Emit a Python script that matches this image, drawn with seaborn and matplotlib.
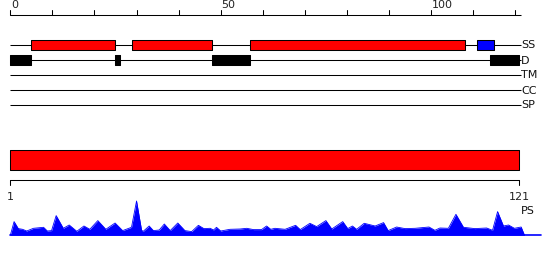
import matplotlib
matplotlib.use("Agg")
import matplotlib.pyplot as plt
import seaborn as sns
import pandas as pd

# ---------------- data ----------------
seq_len = 121
track_names = ["SS", "D", "TM", "CC", "SP"]
ss_helix = [(5, 25), (29, 48), (57, 108)]        # red boxes
ss_strand = [(111, 115)]                          # blue box
disorder = [(0, 5), (24.9, 26.1), (48, 57), (114, 121)]
scale_ticks = list(range(0, 121, 10))
scale_labels = {0: "0", 50: "50", 100: "100"}
domain = [(0, 121)]
domain_labels = ["1", "121"]

ps_pos = [0.0, 0.9, 1.9, 2.9, 3.9, 5.5, 7.9, 8.8, 9.8, 10.9, 12.6, 14.0, 15.8, 17.5,
          18.9, 20.8, 22.7, 24.9, 26.7, 28.8, 30.0, 31.2, 31.6, 33.0, 34.0, 35.4, 36.6,
          38.0, 39.8, 41.5, 43.1, 44.7, 46.0, 47.5, 48.3, 49.0, 50.0, 52.2, 54.6, 56.2,
          57.8, 59.7, 60.9, 61.9, 62.9, 65.3, 67.8, 68.9, 71.2, 72.8, 75.0, 76.4, 79.0,
          80.2, 81.3, 82.3, 84.1, 86.7, 88.7, 89.8, 91.8, 93.8, 96.2, 99.5, 100.9, 102.1,
          104.1, 105.9, 107.7, 110.4, 113.2, 114.6, 115.8, 117.2, 118.4, 119.8, 121.4, 122.2]
ps_val = [0, 13.7, 6.7, 6, 4.3, 7, 8, 4.3, 4.7, 19.7, 7, 10.3, 4, 9.3,
          6, 14.7, 6, 12.3, 4.7, 8, 34.3, 5, 4, 9.3, 4.7, 5.3, 11.3,
          4.7, 12.3, 4.7, 3.7, 10, 6.7, 7, 5.3, 8, 4.3, 6, 6.3, 7,
          5.7, 5.7, 9.3, 6, 7, 6, 10, 5.7, 12, 8.7, 14.7, 6.3, 13.7,
          6.7, 9.3, 6, 12, 9.3, 12.7, 4.7, 8.3, 6.7, 7, 8.3, 5, 7.3,
          7, 21, 8, 6.7, 7.3, 5, 23.7, 9.3, 10.3, 7, 8.3, 0]
ps_base_end = 126.05

# ---------------- layout (pixel rows) ----------------
px_per_res = 4.208
x0_px = 10.3
W, H = 550, 260
row_y = {"SS": 45, "D": 60, "TM": 75, "CC": 90, "SP": 105}
box_h = 10
scale_y = 15
dom_y0, dom_y1 = 150.3, 170.3
dom_axis_y = 180.3
ps_base = 235.3
line_end = 121.3

sns.set_theme(style="white")
plt.rcParams["font.family"] = ["DejaVu Sans"]

fig = plt.figure(figsize=(W / 100, H / 100), dpi=100)
ax = fig.add_axes([0, 0, 1, 1])
ax.set_xlim(-x0_px / px_per_res, (W - x0_px) / px_per_res)
ax.set_ylim(H, 0)
ax.axis("off")

lw = 0.75
fs = 8

# top scale
ax.plot([0, line_end], [scale_y, scale_y], color="black", lw=lw, solid_capstyle="butt")
for t in scale_ticks:
    ax.plot([t, t], [scale_y, scale_y - 5], color="black", lw=lw)
    if t in scale_labels:
        ax.text(t + 0.2, scale_y - 4.5, scale_labels[t], ha="left", va="bottom",
                fontsize=fs, color="#222222")

# track lines
for name in track_names:
    y = row_y[name]
    ax.plot([0, line_end], [y, y], color="black", lw=lw, solid_capstyle="butt")
    ax.text(line_end + 0.1, y + 0.5, name, ha="left", va="center", fontsize=fs,
            color="#111111")

def boxes(spans, y, color):
    ax.broken_barh([(a, b - a) for a, b in spans], (y - box_h / 2, box_h),
                   facecolors=color, edgecolors="black", linewidth=lw, zorder=3)

boxes(ss_helix, row_y["SS"], "#ff0000")
boxes(ss_strand, row_y["SS"], "#0000ff")
boxes(disorder, row_y["D"], "black")

# domain bar
ax.broken_barh([(a, b - a) for a, b in domain], (dom_y0, dom_y1 - dom_y0),
               facecolors="#ff0000", edgecolors="black", linewidth=lw, zorder=3)
ax.plot([0, seq_len], [dom_axis_y, dom_axis_y], color="black", lw=lw)
for xx in (0, seq_len):
    ax.plot([xx, xx], [dom_axis_y, dom_axis_y + 5], color="black", lw=lw)
ax.text(0, 196.5, domain_labels[0], ha="center", va="center", fontsize=fs, color="#222222")
ax.text(seq_len, 196.5, domain_labels[1], ha="center", va="center", fontsize=fs,
        color="#222222")
ax.text(line_end + 0.1, 211, "PS", ha="left", va="center", fontsize=fs, color="#111111")

# profile
df = pd.DataFrame({"pos": ps_pos, "y": [ps_base - v for v in ps_val]})
ax.fill_between(df["pos"], df["y"], ps_base, color="#0000ff", lw=0, zorder=2)
sns.lineplot(data=df, x="pos", y="y", ax=ax, color="#0000ff", lw=0.6, sort=False,
             estimator=None, zorder=2)
ax.plot([0, ps_base_end], [ps_base, ps_base], color="#0000ff", lw=1.2, zorder=2)

ax.set_xlim(-x0_px / px_per_res, (W - x0_px) / px_per_res)
ax.set_ylim(H, 0)
ax.axis("off")
fig.savefig("out.png", dpi=100)
